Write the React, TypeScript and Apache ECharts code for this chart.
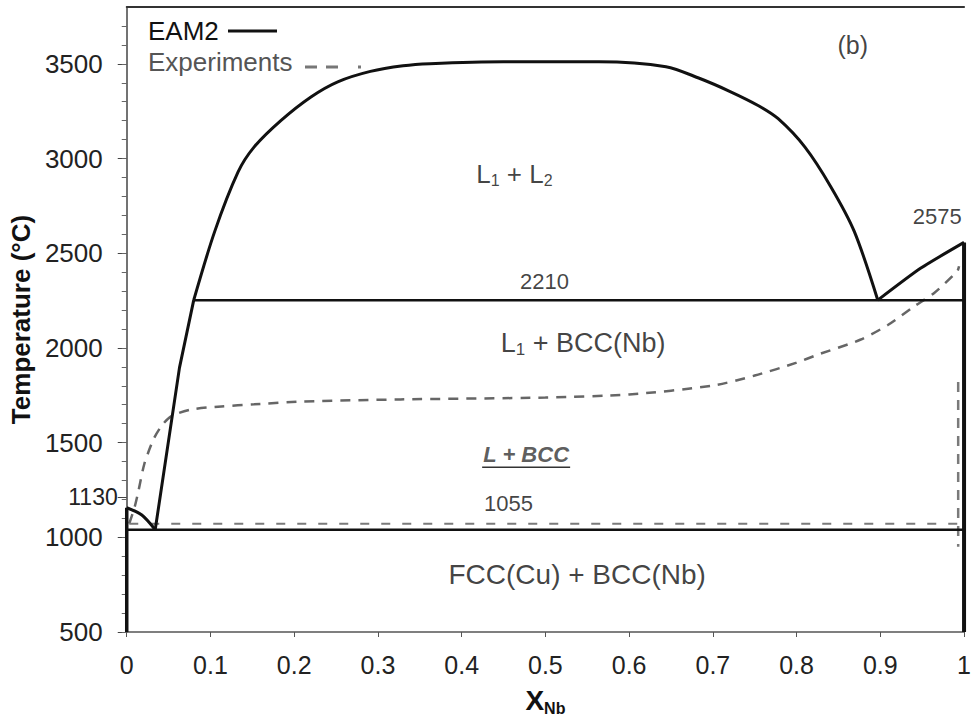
import React, { useEffect, useRef } from "react";
import * as echarts from "echarts";

// ---- axis ticks ----
const xTickValues = [0, 0.1, 0.2, 0.3, 0.4, 0.5, 0.6, 0.7, 0.8, 0.9, 1];
const yTickValues = [500, 1000, 1500, 2000, 2500, 3000, 3500];
const yTickLabels = ["500", "1000", "1500", "2000", "2500", "3000", "3500"];
const yExtraTickValues = [1214];
const yExtraTickLabels = ["1130"];
const yMinorTicks = [
  500, 600, 700, 800, 900, 1000, 1100, 1200, 1300, 1400, 1500, 1600, 1700, 1800, 1900,
  2000, 2100, 2200, 2300, 2400, 2500, 2600, 2700, 2800, 2900, 3000, 3100, 3200, 3300,
  3400, 3500, 3600, 3700,
];

// ---- EAM2 (solid) ----
const eam2LeftLiquidus = [[0, 1156], [0.018, 1118], [0.034, 1040]];
const eam2Liquidus = [[0.034, 1040], [0.063, 1896], [0.08, 2252]];
const eam2Dome = [
  [0.08, 2252], [0.105, 2614], [0.133, 2929], [0.152, 3060], [0.184, 3200], [0.22, 3325],
  [0.252, 3405], [0.291, 3460], [0.33, 3490], [0.362, 3501], [0.45, 3511], [0.564, 3511],
  [0.644, 3485], [0.683, 3425], [0.72, 3355], [0.754, 3280], [0.778, 3210], [0.81, 3060],
  [0.841, 2850], [0.869, 2614], [0.897, 2252],
];
const eam2RightLiquidus = [[0.897, 2252], [0.948, 2420], [1.0, 2557]];
const eam2Monotectic = [[0.08, 2252], [1.0, 2252]];
const eam2Eutectic = [[0, 1040], [1.0, 1040]];
const eam2LeftEdge = [[0, 1156], [0, 500]];
const eam2RightEdge = [[1.0, 2557], [1.0, 500]];

// ---- Experiments (dashed) ----
const expLiquidus = [
  [0.003, 1072], [0.0095, 1161], [0.014, 1245], [0.021, 1387], [0.032, 1518], [0.042, 1591],
  [0.053, 1639], [0.077, 1675], [0.113, 1691], [0.152, 1702], [0.211, 1717], [0.327, 1728],
  [0.5, 1738], [0.6, 1754], [0.7, 1801], [0.75, 1854], [0.8, 1922], [0.825, 1964],
  [0.876, 2043], [0.909, 2121], [0.941, 2221], [0.964, 2289], [0.992, 2405], [0.994, 2431],
];
const expEutectic = [[0.003, 1072], [0.993, 1072]];
const expRightSolidus = [[0.993, 1820], [0.993, 950]];

// ---- annotations ----
const annotationTexts = ["{m|L}{s|1}{m| + L}{s|2}", "2210", "2575", "{m|L}{s|1}{m| + BCC(Nb)}", "L + BCC", "1055", "FCC(Cu) + BCC(Nb)", "(b)"];
const annotationX = [0.463, 0.499, 0.968, 0.545, 0.477, 0.456, 0.538, 0.867];
const annotationY = [2919, 2352, 2693, 2027, 1439, 1177, 805, 3601];

const FONT = "'Liberation Sans', Arial, sans-serif";

export default function App() {
  const ref = useRef<HTMLDivElement>(null);
  useEffect(() => {
    if (!ref.current) return;
    const chart = echarts.init(ref.current, null, { renderer: "svg" });

    const solid = (data: number[][], smooth: number | boolean = false, width = 3) => ({
      type: "line",
      data,
      showSymbol: false,
      symbol: "none",
      smooth,
      silent: true,
      lineStyle: { color: "#111", width },
      z: 5,
    });
    const dashed = (data: number[][], color: string, width: number, dash: number[], smooth: number | boolean = false) => ({
      type: "line",
      data,
      showSymbol: false,
      symbol: "none",
      smooth,
      silent: true,
      lineStyle: { color, width, type: dash },
      z: 4,
    });

    const richOf = (size: number) => ({
      m: { fontSize: size, fontFamily: FONT, color: "#111", lineHeight: size + 4 },
      s: { fontSize: Math.round(size * 0.62), fontFamily: FONT, color: "#111", lineHeight: size + 4, verticalAlign: "bottom" },
    });

    const annStyles: any[] = [
      { rich: richOf(26) },
      { fontSize: 22, color: "#111" },
      { fontSize: 22, color: "#111" },
      { rich: richOf(27) },
      { fontSize: 22, color: "#333", fontWeight: "bold", fontStyle: "italic" },
      { fontSize: 22, color: "#111" },
      { fontSize: 28, color: "#111" },
      { fontSize: 25, color: "#111" },
    ];

    const annData = annotationTexts.map((t, i) => ({
      value: [annotationX[i], annotationY[i]],
      label: {
        show: true,
        position: "inside",
        formatter: t,
        fontFamily: FONT,
        ...annStyles[i],
      },
    }));

    const legendGraphics: any[] = [
      { type: "text", left: 148, top: 18, style: { text: "EAM2", font: `26px ${FONT}`, fill: "#111" } },
      { type: "line", shape: { x1: 228, y1: 31, x2: 277, y2: 31 }, style: { stroke: "#111", lineWidth: 3 } },
      { type: "text", left: 148, top: 49, style: { text: "Experiments", font: `26px ${FONT}`, fill: "#555" } },
      { type: "line", shape: { x1: 305, y1: 67, x2: 362, y2: 67 }, style: { stroke: "#777", lineWidth: 3, lineDash: [12, 9, 12, 20, 3, 200] } },
    ];

    chart.setOption({
      animation: false,
      backgroundColor: "#fff",
      grid: { left: 125, right: 7, top: 7, bottom: 85, show: false },
      xAxis: [
        {
          type: "value",
          min: 0,
          max: 1,
          interval: 0.1,
          position: "bottom",
          name: "{x|X}{s|Nb}",
          nameLocation: "middle",
          nameGap: 52,
          nameTextStyle: {
            rich: {
              x: { fontSize: 28, fontWeight: "bold", fontFamily: FONT, color: "#111", lineHeight: 32 },
              s: { fontSize: 16, fontWeight: "bold", fontFamily: FONT, color: "#111", lineHeight: 32, verticalAlign: "bottom" },
            },
          },
          axisLine: { show: true, lineStyle: { color: "#555", width: 1.5 } },
          axisTick: { show: true, length: 5, lineStyle: { color: "#555" } },
          axisLabel: {
            fontSize: 25,
            fontFamily: FONT,
            color: "#222",
            margin: 20,
            formatter: (v: number) => {
              const r = Math.round(v * 10) / 10;
              const i = xTickValues.indexOf(r);
              return i === 0 ? "0" : i === 10 ? "1" : r.toFixed(1);
            },
          },
          splitLine: { show: false },
        },
        {
          type: "value",
          min: 0,
          max: 1,
          position: "top",
          axisLine: { show: true, lineStyle: { color: "#333", width: 2 } },
          axisTick: { show: false },
          axisLabel: { show: false },
          splitLine: { show: false },
        },
      ],
      yAxis: [
        {
          type: "value",
          min: 500,
          max: 3800,
          position: "left",
          name: "Temperature (°C)",
          nameLocation: "middle",
          nameGap: 92,
          nameTextStyle: { fontSize: 26, fontWeight: "bold", fontFamily: FONT, color: "#111" },
          axisLine: { show: true, lineStyle: { color: "#444", width: 1.5 } },
          axisTick: { show: true, length: 9, customValues: yTickValues, lineStyle: { color: "#444" } },
          axisLabel: {
            customValues: yTickValues,
            fontSize: 26,
            fontFamily: FONT,
            color: "#222",
            margin: 24,
            formatter: (v: number) => {
              const i = yTickValues.indexOf(v);
              return i >= 0 ? yTickLabels[i] : "";
            },
          },
          splitLine: { show: false },
        },
        {
          type: "value",
          min: 500,
          max: 3800,
          position: "left",
          offset: 0,
          axisLine: { show: false },
          axisTick: { show: true, length: 5, customValues: yMinorTicks, lineStyle: { color: "#666" } },
          axisLabel: { show: false },
          splitLine: { show: false },
        },
        {
          type: "value",
          min: 500,
          max: 3800,
          position: "left",
          offset: 0,
          axisLine: { show: false },
          axisTick: { show: true, length: 9, customValues: yExtraTickValues, lineStyle: { color: "#444" } },
          axisLabel: {
            customValues: yExtraTickValues,
            fontSize: 23,
            fontFamily: FONT,
            color: "#222",
            margin: 9,
            formatter: (v: number) => {
              const i = yExtraTickValues.indexOf(v);
              return i >= 0 ? yExtraTickLabels[i] : "";
            },
          },
          splitLine: { show: false },
        },
      ],
      series: [
        dashed(expLiquidus, "#666", 2.5, [10, 8], 0.25),
        dashed(expEutectic, "#7a7a7a", 2, [9, 12]),
        dashed(expRightSolidus, "#7a7a7a", 2.5, [10, 8]),
        solid(eam2LeftLiquidus, 0.3),
        solid(eam2Liquidus),
        solid(eam2Dome, 0.3),
        solid(eam2RightLiquidus, 0.2),
        solid(eam2Monotectic, false, 2.5),
        solid(eam2Eutectic, false, 2.5),
        solid(eam2LeftEdge, false, 3.5),
        solid(eam2RightEdge, false, 4),
        {
          type: "scatter",
          data: annData,
          symbolSize: 0,
          silent: true,
          clip: false,
          z: 10,
        },
      ],
      graphic: legendGraphics,
    });

    // underline under "L + BCC"
    const p1 = chart.convertToPixel({ gridIndex: 0 }, [annotationX[4], annotationY[4]]) as number[];
    chart.setOption({
      graphic: [
        ...legendGraphics,
        { type: "line", shape: { x1: p1[0] - 44, y1: p1[1] + 13, x2: p1[0] + 44, y2: p1[1] + 13 }, style: { stroke: "#333", lineWidth: 1.5 } },
      ],
    });

    return () => chart.dispose();
  }, []);
  return <div ref={ref} style={{ position: "absolute", left: 0, top: 0, width: 974, height: 721 }} />;
}
